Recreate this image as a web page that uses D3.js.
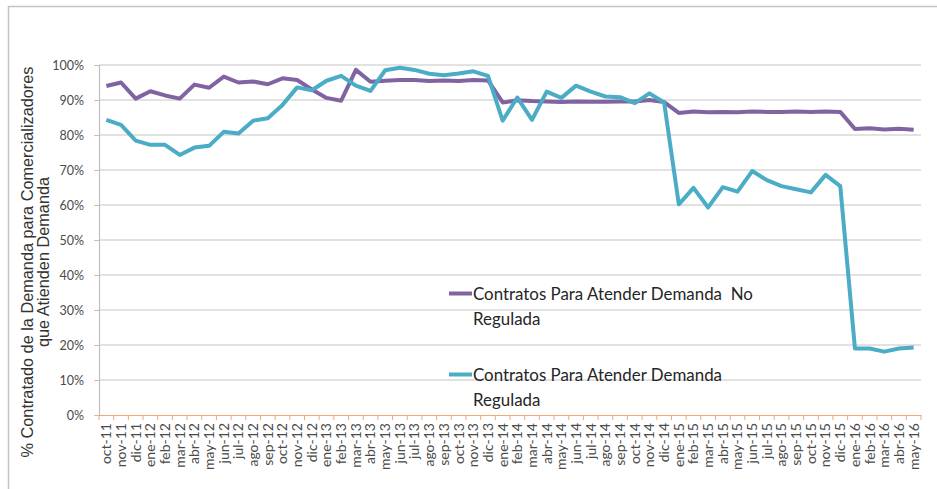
<!DOCTYPE html>
<html>
<head>
<meta charset="utf-8">
<script src="https://cdn.jsdelivr.net/npm/d3@7"></script>
<style>
  body { margin: 0; background: #fff; }
  svg { display: block; }
</style>
</head>
<body>
<div id="chart"></div>
<script>
// Month labels (x categories)
const months = [
  "oct-11","nov-11","dic-11",
  "ene-12","feb-12","mar-12","abr-12","may-12","jun-12","jul-12","ago-12","sep-12","oct-12","nov-12","dic-12",
  "ene-13","feb-13","mar-13","abr-13","may-13","jun-13","jul-13","ago-13","sep-13","oct-13","nov-13","dic-13",
  "ene-14","feb-14","mar-14","abr-14","may-14","jun-14","jul-14","ago-14","sep-14","oct-14","nov-14","dic-14",
  "ene-15","feb-15","mar-15","abr-15","may-15","jun-15","jul-15","ago-15","sep-15","oct-15","nov-15","dic-15",
  "ene-16","feb-16","mar-16","abr-16","may-16"
];

// Contratos Para Atender Demanda No Regulada (%)
const noRegulada = [
  94.0, 95.0, 90.4,
  92.5, 91.3, 90.4, 94.4, 93.5, 96.7, 95.0, 95.3, 94.5, 96.2, 95.7, 93.0,
  90.6, 89.8, 98.6, 95.2, 95.5, 95.7, 95.7, 95.4, 95.6, 95.4, 95.7, 95.6,
  89.3, 89.9, 89.7, 89.6, 89.4, 89.6, 89.5, 89.5, 89.6, 89.6, 90.0, 89.4,
  86.3, 86.7, 86.5, 86.6, 86.5, 86.7, 86.6, 86.6, 86.7, 86.6, 86.7, 86.6,
  81.7, 81.9, 81.6, 81.8, 81.5
];

// Contratos Para Atender Demanda Regulada (%)
const regulada = [
  84.3, 82.9, 78.4,
  77.2, 77.2, 74.3, 76.4, 76.9, 80.9, 80.4, 84.1, 84.8, 88.6, 93.6, 92.8,
  95.5, 96.9, 94.1, 92.6, 98.5, 99.2, 98.6, 97.5, 97.1, 97.6, 98.2, 96.9,
  84.1, 90.7, 84.3, 92.4, 90.6, 94.1, 92.4, 91.0, 90.8, 89.1, 91.9, 89.3,
  60.2, 64.9, 59.3, 65.1, 63.8, 69.7, 67.1, 65.4, 64.5, 63.6, 68.6, 65.4,
  19.0, 19.0, 18.1, 19.0, 19.3
];

const yTicks = [0, 10, 20, 30, 40, 50, 60, 70, 80, 90, 100];

const seriesNames = ["Contratos Para Atender Demanda  No", "Contratos Para Atender Demanda"];
const seriesNames2 = ["Regulada", "Regulada"];
const seriesColors = ["#8064A2", "#4BACC6"];

// Set the dimensions and margins of the graph
const W = 937, H = 489;
const margin = {top: 65, right: 16, bottom: 74, left: 99};
const width = W - margin.left - margin.right;
const height = H - margin.top - margin.bottom;

const svg = d3.select("#chart")
  .append("svg")
  .attr("width", W)
  .attr("height", H);

// Outer frame
svg.append("rect")
  .attr("x", 8.5).attr("y", 6.5)
  .attr("width", W + 20).attr("height", H + 20)
  .attr("fill", "none")
  .attr("stroke", "#c4c4c4")
  .attr("stroke-width", 1.5);

const g = svg.append("g")
  .attr("transform", `translate(${margin.left},${margin.top})`);

// Scales
const xScale = d3.scaleBand()
  .domain(months)
  .range([0, width]);

const yScale = d3.scaleLinear()
  .domain([0, 100])
  .range([height, 0]);

// Gridlines
g.append("g")
  .selectAll("line")
  .data(yTicks.filter(d => d > 0))
  .enter()
  .append("line")
  .attr("x1", 0)
  .attr("x2", width)
  .attr("y1", d => yScale(d))
  .attr("y2", d => yScale(d))
  .attr("stroke", "#d9d9d9")
  .attr("stroke-width", 1.3);

// Y axis
const yAxis = g.append("g")
  .call(d3.axisLeft(yScale).tickValues(yTicks).tickSize(5).tickPadding(10).tickFormat(d => d + "%"));
yAxis.select(".domain").attr("stroke", "#bfbfbf").attr("stroke-width", 1.2);
yAxis.selectAll(".tick line").attr("stroke", "#bfbfbf");
yAxis.selectAll(".tick text")
  .attr("fill", "#4a4a4a")
  .style("font-family", "Lato, sans-serif")
  .style("font-size", "12.5px");

// X axis (ticks at band boundaries)
const xAxis = g.append("g")
  .attr("transform", `translate(0,${height})`)
  .call(d3.axisBottom(xScale).tickSize(0).tickPadding(0));
xAxis.select(".domain").attr("stroke", "#f0a878").attr("stroke-width", 1.2);
xAxis.selectAll(".tick text")
  .attr("fill", "#4a4a4a")
  .style("font-family", "Lato, sans-serif")
  .style("font-size", "14px")
  .attr("text-anchor", "end")
  .attr("dy", "0.35em")
  .attr("transform", "translate(0,8) rotate(-90)");

g.append("g")
  .selectAll("line")
  .data(months.concat(["end"]))
  .enter()
  .append("line")
  .attr("x1", (d, i) => i * xScale.step())
  .attr("x2", (d, i) => i * xScale.step())
  .attr("y1", height)
  .attr("y2", height + 5)
  .attr("stroke", "#f0a878")
  .attr("stroke-width", 1);

// Lines
const line = d3.line()
  .x((d, i) => xScale(months[i]) + xScale.bandwidth() / 2)
  .y(d => yScale(d));

[noRegulada, regulada].forEach((s, k) => {
  g.append("path")
    .datum(s)
    .attr("fill", "none")
    .attr("stroke", seriesColors[k])
    .attr("stroke-width", 4)
    .attr("stroke-linejoin", "round")
    .attr("d", line);
});

// Legend inside the plot
const legendY = [293.5, 374.5];
legendY.forEach((ly, k) => {
  svg.append("line")
    .attr("x1", 449).attr("x2", 472)
    .attr("y1", ly).attr("y2", ly)
    .attr("stroke", seriesColors[k])
    .attr("stroke-width", 4);
  svg.append("text")
    .attr("x", 473)
    .attr("y", ly + 6.5)
    .attr("fill", "#262626")
    .style("font-family", "Lato, sans-serif")
    .style("font-size", "16.9px")
    .style("white-space", "pre")
    .text(seriesNames[k]);
  svg.append("text")
    .attr("x", 473)
    .attr("y", ly + 31)
    .attr("fill", "#262626")
    .style("font-family", "Lato, sans-serif")
    .style("font-size", "16.9px")
    .text(seriesNames2[k]);
});

// Y axis title (two lines)
const title = svg.append("text")
  .attr("transform", "translate(33,262) rotate(-90)")
  .attr("text-anchor", "middle")
  .attr("fill", "#333")
  .style("font-family", "'Liberation Sans', Arial, sans-serif")
  .style("font-size", "16.3px");
title.append("tspan").attr("x", 0).attr("dy", 0)
  .text("% Contratado de la Demanda para Comercializadores");
title.append("tspan").attr("x", 0).attr("dy", 16)
  .text("que Atienden Demanda");
</script>
</body>
</html>
